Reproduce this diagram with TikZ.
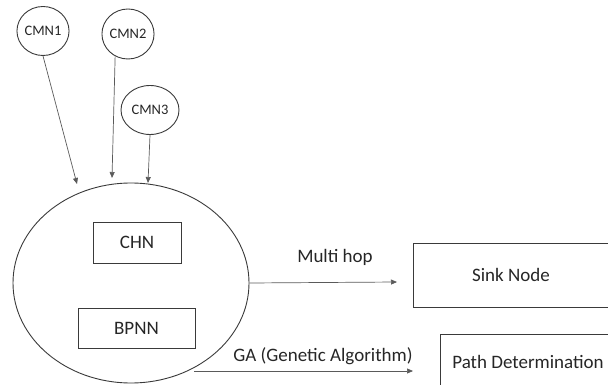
\documentclass[tikz,border=0pt]{standalone}
\usepackage{fontspec}
\setmainfont{Carlito}
\usetikzlibrary{arrows.meta,shapes.geometric}
\definecolor{edge}{HTML}{3A3A3A}
\definecolor{arrowc}{HTML}{5A5A5A}
\definecolor{txt}{HTML}{262626}
\begin{document}
\begin{tikzpicture}[x=1pt,y=-1pt,
  cmn/.style={ellipse,draw=edge,line width=0.9pt,inner sep=0pt,text=txt,font=\fontsize{14.5}{17}\selectfont},
  boxnode/.style={rectangle,draw=edge,line width=0.9pt,inner sep=0pt,text=txt,font=\fontsize{19}{23}\selectfont},
  lbl/.style={inner sep=0pt,text=txt,font=\fontsize{19}{23}\selectfont},
  arr/.style={draw=arrowc,line width=0.7pt,-{Triangle[length=6pt,width=5pt]}}]
\useasboundingbox (0,0) rectangle (608,385);
% CMN nodes
\node[cmn,minimum width=44pt,minimum height=49pt] (c1) at (43,31) {CMN1};
\node[cmn,minimum width=42pt,minimum height=50pt] (c2) at (128,34) {CMN2};
\node[cmn,minimum width=58pt,minimum height=49pt] (c3) at (150,110) {CMN3};
% big ellipse
\node[ellipse,draw=edge,line width=0.9pt,minimum width=236pt,minimum height=200pt,inner sep=0pt] (big) at (131,283) {};
\node[boxnode,minimum width=88pt,minimum height=41pt] (chn) at (137,242.5) {CHN};
\node[boxnode,minimum width=117pt,minimum height=40pt] (bpnn) at (136.5,328) {BPNN};
% right boxes
\node[boxnode,minimum width=196pt,minimum height=64pt] (sink) at (511,275) {Sink Node};
\node[boxnode,minimum width=176pt,minimum height=56pt] (path) at (528,362) {Path Determination};
% arrow end points
\coordinate (a1) at (77,184);
\coordinate (a2) at (112,178);
\coordinate (a3) at (148,183);
\coordinate (mh) at (397,282);
\coordinate (gs) at (194,371);
\coordinate (ge) at (413,371);
\draw[arr] (c1.south) -- (a1);
\draw[arr] (c2.-120) -- (a2);
\draw[arr] (c3.south) -- (a3);
\draw[arr] (big.east) -- (mh);
\draw[arr] (gs) -- (ge);
% labels
\node[lbl] (mhl) at (335,257) {Multi hop};
\node[lbl] (gal) at (323,356) {GA (Genetic Algorithm)};
\end{tikzpicture}
\end{document}
